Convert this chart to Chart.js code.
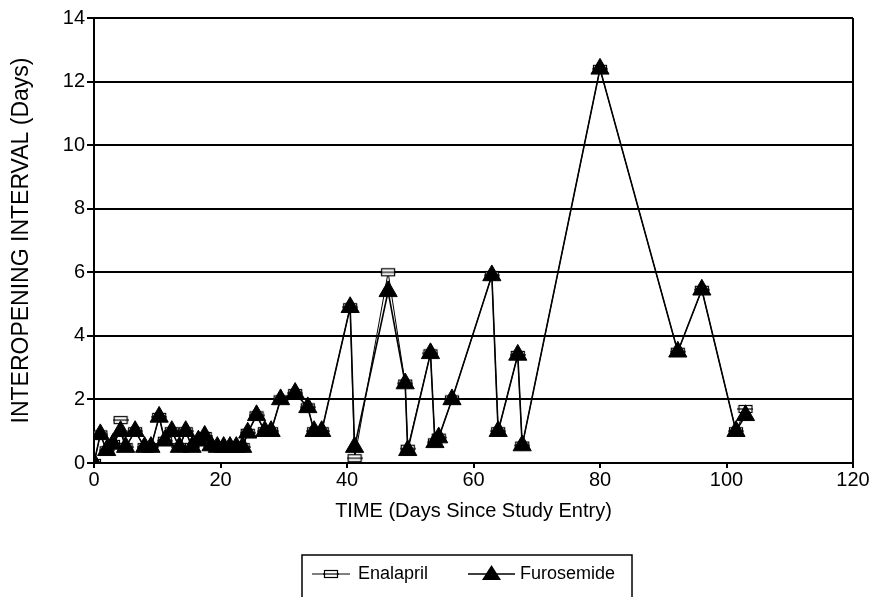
<!DOCTYPE html>
<html>
<head>
<meta charset="utf-8">
<script src="https://cdn.jsdelivr.net/npm/chart.js@4.4.1/dist/chart.umd.min.js"></script>
<style>
html,body{margin:0;padding:0;background:#fff;}
#wrap{width:887px;height:597px;position:relative;}
</style>
</head>
<body>
<div id="wrap"><canvas id="c" width="887" height="597"></canvas></div>
<script>
// ---- data ----
const days = [0, 1, 2, 3, 4.2, 5, 6.5, 8, 9, 10.3, 11.2, 12.3, 13.5, 14.5, 15.5, 16.5, 17.5, 18.5, 19.5, 20.5, 21.5, 22.5, 23.5, 24.3, 25.7, 27, 28, 29.5, 31.8, 33.8, 34.8, 36, 40.5, 41.2, 46.5, 49.2, 49.6, 53.2, 53.9, 54.5, 56.6, 62.9, 63.9, 67, 67.7, 80, 92.3, 96.1, 101.5, 103];
const furosemide = [0, 0.9, 0.4, 0.6, 1.0, 0.5, 1.0, 0.5, 0.5, 1.45, 0.7, 1.0, 0.5, 1.0, 0.5, 0.7, 0.85, 0.55, 0.5, 0.5, 0.5, 0.5, 0.5, 0.95, 1.5, 1.0, 1.0, 2.0, 2.2, 1.75, 1.0, 1.0, 4.9, 0.5, 5.4, 2.5, 0.4, 3.45, 0.65, 0.8, 2.0, 5.9, 1.0, 3.4, 0.55, 12.4, 3.5, 5.45, 1.0, 1.5];
const enalapril = [0, 0.9, 0.4, 0.6, 1.35, 0.5, 1.0, 0.5, 0.5, 1.45, 0.7, 1.0, 0.5, 1.0, 0.5, 0.7, 0.85, 0.55, 0.5, 0.5, 0.5, 0.5, 0.5, 0.95, 1.5, 1.0, 1.0, 2.0, 2.2, 1.75, 1.0, 1.0, 4.9, 0.15, 6.0, 2.5, 0.45, 3.45, 0.65, 0.8, 2.0, 5.9, 1.0, 3.4, 0.55, 12.4, 3.5, 5.45, 1.0, 1.7];
const seriesNames = ['Enalapril', 'Furosemide'];
const xTitle = 'TIME (Days Since Study Entry)';
const yTitle = 'INTEROPENING INTERVAL (Days)';

const FONT = "'Liberation Sans', Arial, sans-serif";

function boxMarker(){
  const c = document.createElement('canvas');
  c.width = 16; c.height = 10;
  const g = c.getContext('2d');
  g.fillStyle = '#fff';
  g.fillRect(1, 1, 14, 8);
  g.strokeStyle = '#000';
  g.lineWidth = 1.2;
  g.strokeRect(1.5, 1.5, 13, 7);
  g.beginPath(); g.moveTo(0, 5); g.lineTo(16, 5); g.stroke();
  return c;
}
const boxImg = boxMarker();

const pts = (ys) => days.map((d, i) => ({x: d, y: ys[i]}));

const legendPlugin = {
  id: 'customLegend',
  afterDraw(chart){
    const ctx = chart.ctx;
    ctx.save();
    ctx.strokeStyle = '#000';
    ctx.lineWidth = 1.5;
    ctx.strokeRect(302, 555, 330, 60);
    const y = 574;
    ctx.lineWidth = 1.2;
    ctx.beginPath(); ctx.moveTo(312, y); ctx.lineTo(350, y); ctx.stroke();
    ctx.drawImage(boxImg, 323, y - 5);
    ctx.lineWidth = 1.5;
    ctx.beginPath(); ctx.moveTo(468, y); ctx.lineTo(515, y); ctx.stroke();
    ctx.fillStyle = '#000';
    ctx.beginPath(); ctx.moveTo(491.5, y - 9); ctx.lineTo(501, y + 6); ctx.lineTo(482, y + 6); ctx.closePath(); ctx.fill();
    ctx.font = '18px ' + FONT;
    ctx.textBaseline = 'middle';
    ctx.fillText(seriesNames[0], 358, y);
    ctx.fillText(seriesNames[1], 520, y);
    ctx.restore();
  }
};

new Chart(document.getElementById('c'), {
  type: 'line',
  data: {
    datasets: [
      {
        label: seriesNames[0],
        data: pts(enalapril),
        borderColor: '#000',
        borderWidth: 1,
        pointStyle: boxImg,
        pointRadius: 6,
        order: 1,
        tension: 0
      },
      {
        label: seriesNames[1],
        data: pts(furosemide),
        borderColor: '#000',
        backgroundColor: '#000',
        borderWidth: 1.6,
        pointStyle: 'triangle',
        pointRadius: 10.5,
        pointBackgroundColor: '#000',
        pointBorderColor: '#000',
        pointBorderWidth: 1,
        order: 0,
        tension: 0
      }
    ]
  },
  options: {
    responsive: false,
    animation: false,
    events: [],
    layout: {padding: {left: 0, right: 34, top: 18, bottom: 74}},
    plugins: {legend: {display: false}, tooltip: {enabled: false}},
    scales: {
      x: {
        type: 'linear',
        min: 0, max: 120,
        ticks: {stepSize: 20, color: '#000', font: {family: FONT, size: 20}, padding: 0, maxRotation: 0},
        grid: {
          color: (c) => c.tick && c.tick.value === 120 ? '#000' : 'rgba(0,0,0,0)',
          lineWidth: 2,
          tickColor: '#000',
          tickLength: 5,
          drawOnChartArea: true
        },
        border: {color: '#000', width: 2},
        title: {display: true, text: xTitle, color: '#000', font: {family: FONT, size: 20}, padding: {top: 2, bottom: 0}},
        afterFit: (s) => { s.height = 60; }
      },
      y: {
        min: 0, max: 14,
        ticks: {stepSize: 2, color: '#000', font: {family: FONT, size: 20}, padding: 2},
        grid: {color: '#000', lineWidth: 2, tickLength: 7, tickColor: '#000'},
        border: {color: '#000', width: 2},
        title: {display: true, text: yTitle, color: '#000', font: {family: FONT, size: 23}, padding: {top: 8, bottom: 0}},
        afterFit: (s) => { s.width = 94; }
      }
    }
  },
  plugins: [legendPlugin]
});
</script>
</body>
</html>
